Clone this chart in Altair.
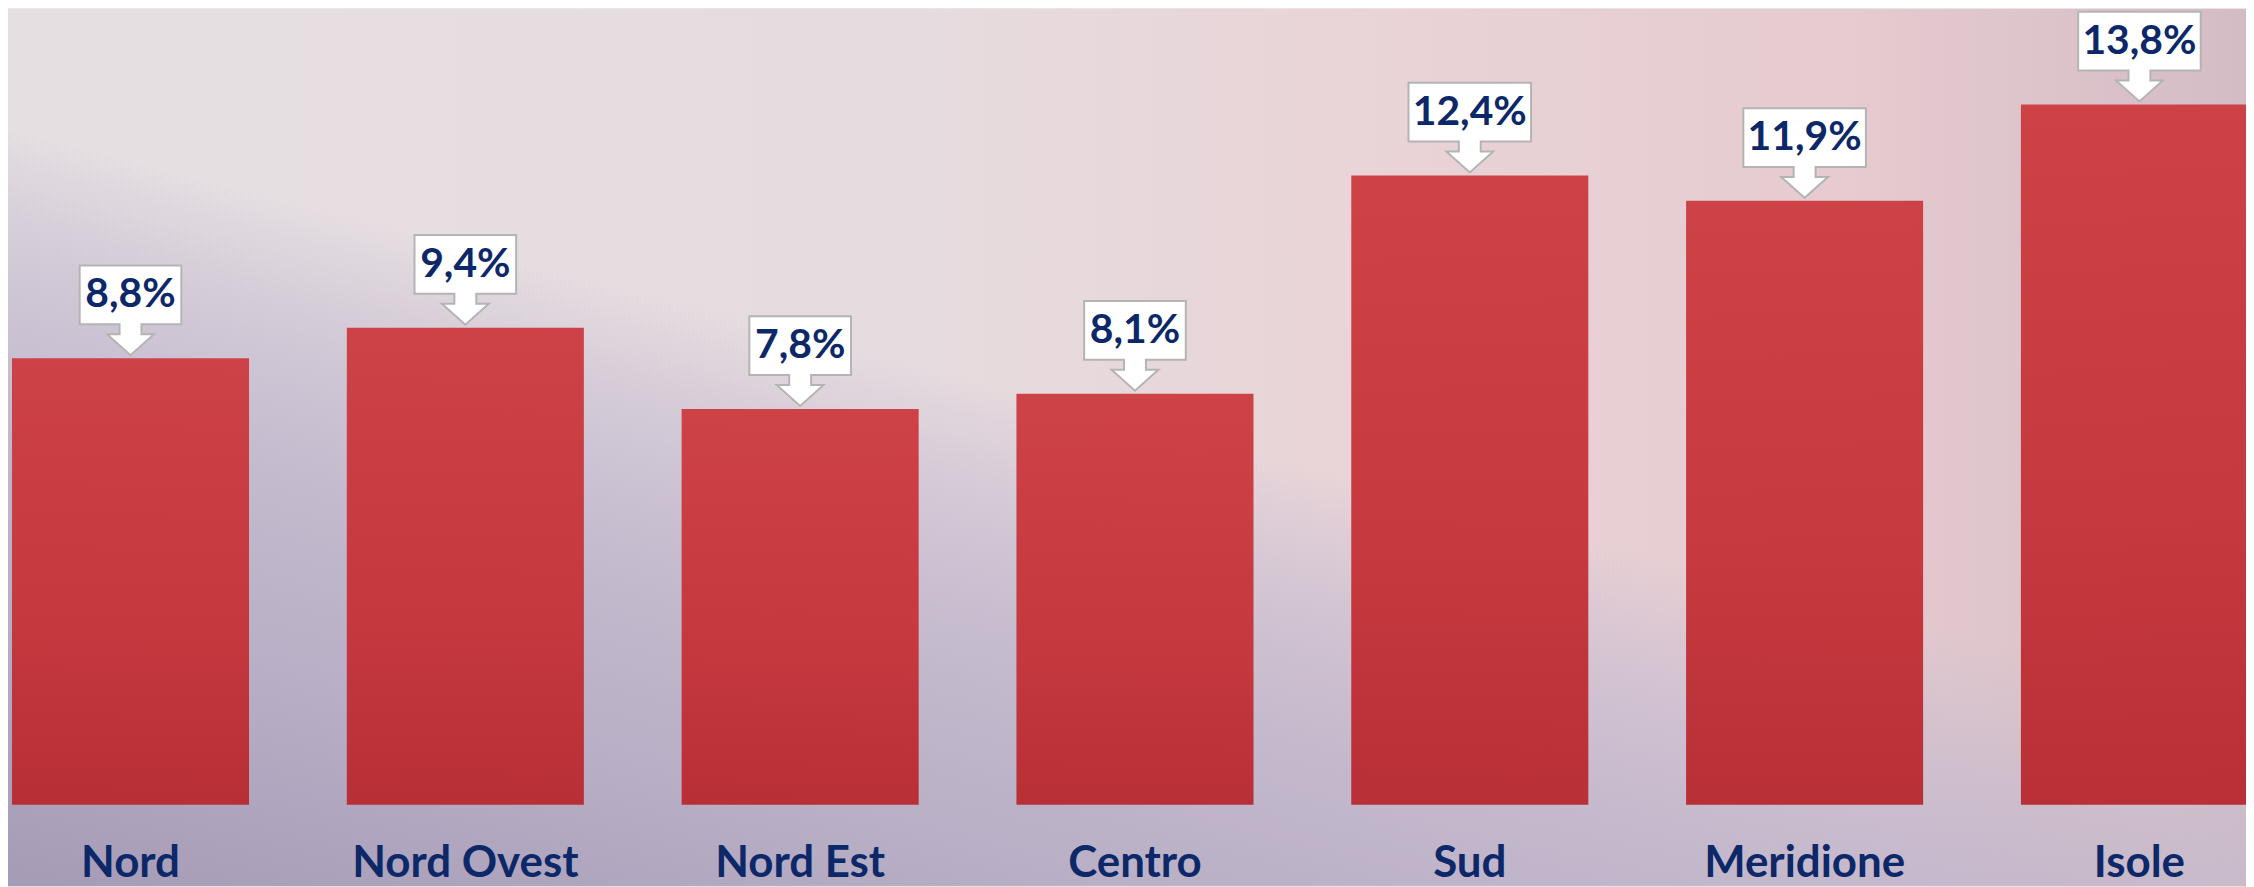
import altair as alt
import pandas as pd

regions = ["Nord", "Nord Ovest", "Nord Est", "Centro", "Sud", "Meridione", "Isole"]
values = [8.8, 9.4, 7.8, 8.1, 12.4, 11.9, 13.8]
labels = ["8,8%", "9,4%", "7,8%", "8,1%", "12,4%", "11,9%", "13,8%"]

W, H = 2246, 879
BASE = 798          # y pixel of the zero line inside the plot
PX_PER_UNIT = 50.93

def callout(half_w):
    hw = half_w
    return (f"M {-hw} -0.93 L {hw} -0.93 L {hw} -0.34 L 0.11 -0.34 L 0.11 -0.24 "
            f"L 0.235 -0.24 L 0 -0.03 L -0.235 -0.24 L -0.11 -0.24 L -0.11 -0.34 "
            f"L {-hw} -0.34 Z")

df = pd.DataFrame({
    "region": regions,
    "value": values,
    "label": labels,
})
df["shape"] = [callout(0.51 if len(l) <= 4 else 0.615) for l in labels]

navy = "#0c2868"

x = alt.X("region:N", sort=regions, axis=None,
          scale=alt.Scale(range=[4, 2258], paddingInner=0.292, paddingOuter=0))
y = alt.Y("value:Q", axis=None,
          scale=alt.Scale(domain=[0, BASE / PX_PER_UNIT], range=[BASE, 0], nice=False, zero=True))

bg1 = alt.Chart(df).mark_rect(
    color=alt.LinearGradient(
        gradient="linear", x1=0, y1=0, x2=1, y2=0,
        stops=[
            alt.GradientStop(color="#e6dfe2", offset=0),
            alt.GradientStop(color="#e6dcdf", offset=0.4),
            alt.GradientStop(color="#e9d4d7", offset=0.6),
            alt.GradientStop(color="#e6cbd0", offset=0.82),
            alt.GradientStop(color="#d4bcc5", offset=1),
        ],
    )
).encode(x=alt.value(0), x2=alt.value(W), y=alt.value(0), y2=alt.value(H))

bg2 = alt.Chart(df).mark_rect(
    color=alt.LinearGradient(
        gradient="linear", x1=0, y1=1, x2=0.4, y2=0.4,
        stops=[
            alt.GradientStop(color="rgba(165,155,182,0.85)", offset=0),
            alt.GradientStop(color="rgba(185,175,198,0.4)", offset=0.4),
            alt.GradientStop(color="rgba(200,190,210,0)", offset=1),
        ],
    )
).encode(x=alt.value(0), x2=alt.value(W), y=alt.value(0), y2=alt.value(H))

bars = alt.Chart(df).mark_bar(
    color=alt.LinearGradient(
        gradient="linear", x1=0, y1=0, x2=0, y2=1,
        stops=[
            alt.GradientStop(color="#cd3e42", offset=0),
            alt.GradientStop(color="#c5353a", offset=0.6),
            alt.GradientStop(color="#b82b31", offset=1),
        ],
    ),
    opacity=0.97,
).encode(x=x, y=y)

boxes = alt.Chart(df).mark_point(
    filled=True, fill="white", stroke="#b4b4b4", strokeWidth=2, opacity=1, size=40000
).encode(x=x, y=y, shape=alt.Shape("shape:N", scale=None, legend=None))

vals = alt.Chart(df).mark_text(
    font="Lato", fontWeight="bold", fontSize=41, color=navy, baseline="middle", dy=-63
).encode(x=x, y=y, text="label:N")

cats = alt.Chart(df).mark_text(
    font="Lato", fontWeight="bold", fontSize=44, color=navy, baseline="alphabetic"
).encode(x=x, y=alt.value(871), text="region:N")

chart = alt.layer(bg1, bg2, bars, boxes, vals, cats).properties(
    width=W, height=H, padding=0, autosize=alt.AutoSizeParams(type="none")
).configure_view(stroke=None).configure(background="#ebe4e6")

chart.save("out.html", embed_options={"renderer": "svg", "actions": False})
